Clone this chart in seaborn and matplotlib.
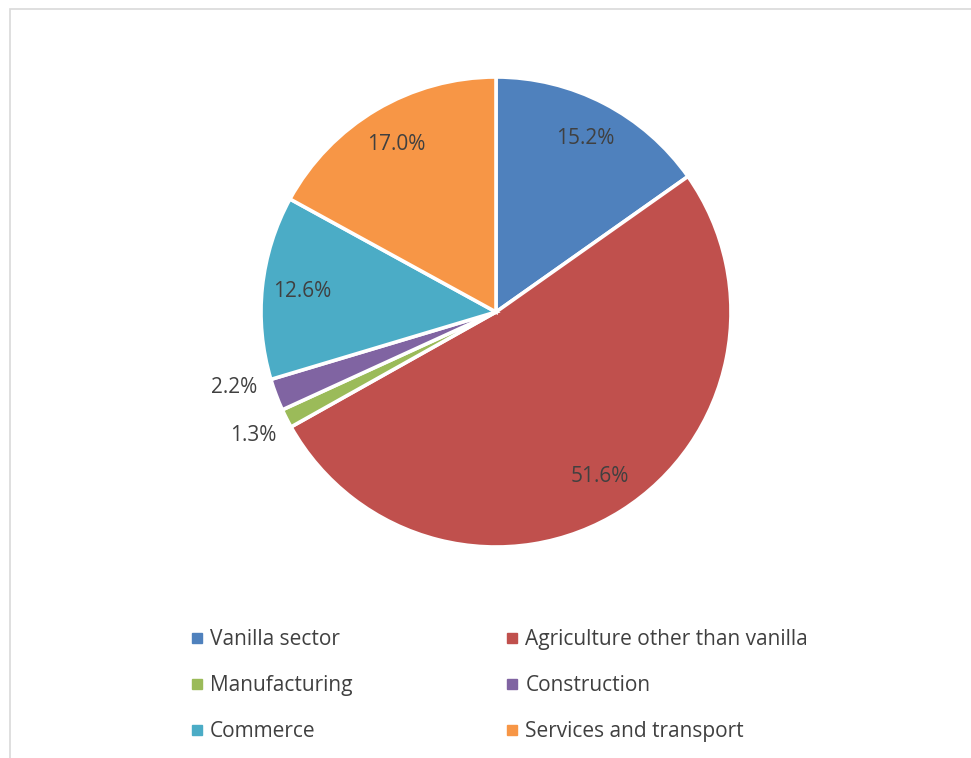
import matplotlib
matplotlib.use("Agg")
import matplotlib.pyplot as plt
import seaborn as sns
import numpy as np
from matplotlib.patches import Rectangle
from matplotlib.lines import Line2D

# Employment shares by sector (percent)
sectors = ["Vanilla sector", "Agriculture other than vanilla", "Manufacturing",
           "Construction", "Commerce", "Services and transport"]
shares = [15.2, 51.6, 1.3, 2.2, 12.6, 17.0]
colors = ["#4F81BD", "#C0504D", "#9BBB59", "#8064A2", "#4BACC6", "#F79646"]

sns.set_theme(style="white")
plt.rcParams["font.family"] = ["Open Sans", "DejaVu Sans"]
text_color = "#404040"
fs = 15

W, H = 971, 758
fig = plt.figure(figsize=(W / 100, H / 100), dpi=100)
fig.patch.set_facecolor("white")

# Chart-area frame (top and left edges visible)
fig.patches.append(Rectangle((10 / W, -0.05), 1.2, (H - 8.5) / H + 0.05,
                             transform=fig.transFigure, fill=False,
                             edgecolor="#D9D9D9", linewidth=1.2))

cx, cy, r = 496, 312, 235
ax = fig.add_axes([(cx - r) / W, (H - cy - r) / H, 2 * r / W, 2 * r / H])

wedges, _ = ax.pie(shares, colors=colors, startangle=90, counterclock=False,
                   radius=1, wedgeprops=dict(edgecolor="white", linewidth=2.6))
ax.set_xlim(-1, 1)
ax.set_ylim(-1, 1)
ax.set_aspect("equal")
ax.axis("off")

# Value labels: inside for large slices, outside for the thin ones
total = sum(shares)
cum = 0.0
for i, v in enumerate(shares):
    mid = 90 - (cum + v / 2) / total * 360
    cum += v
    if v >= 5:
        d, da = 0.83, 0.0
    else:
        d, da = 1.16, (-4.6 if v > 2 else 0.0)
    a = np.deg2rad(mid + da)
    ax.text(d * np.cos(a), d * np.sin(a), f"{v:.1f}%", ha="center", va="center",
            fontsize=fs, color=text_color, clip_on=False)

# Legend laid out row by row in two columns
order = [0, 2, 4, 1, 3, 5]
handles = [Line2D([], [], marker="s", linestyle="none", markersize=6.5,
                  markerfacecolor=colors[i], markeredgecolor=colors[i]) for i in order]
labels = [sectors[i] for i in order]
leg = fig.legend(handles, labels, ncol=2, mode="expand", frameon=False,
                 loc="upper left",
                 bbox_to_anchor=(192 / W, 1 - 629 / H, (808 - 192) / W, 0.0001),
                 bbox_transform=fig.transFigure, borderpad=0, borderaxespad=0,
                 handlelength=0.45, handletextpad=0.4, labelspacing=1.2,
                 fontsize=fs, labelcolor=text_color)

fig.savefig("out.png", dpi=100, facecolor="white")
